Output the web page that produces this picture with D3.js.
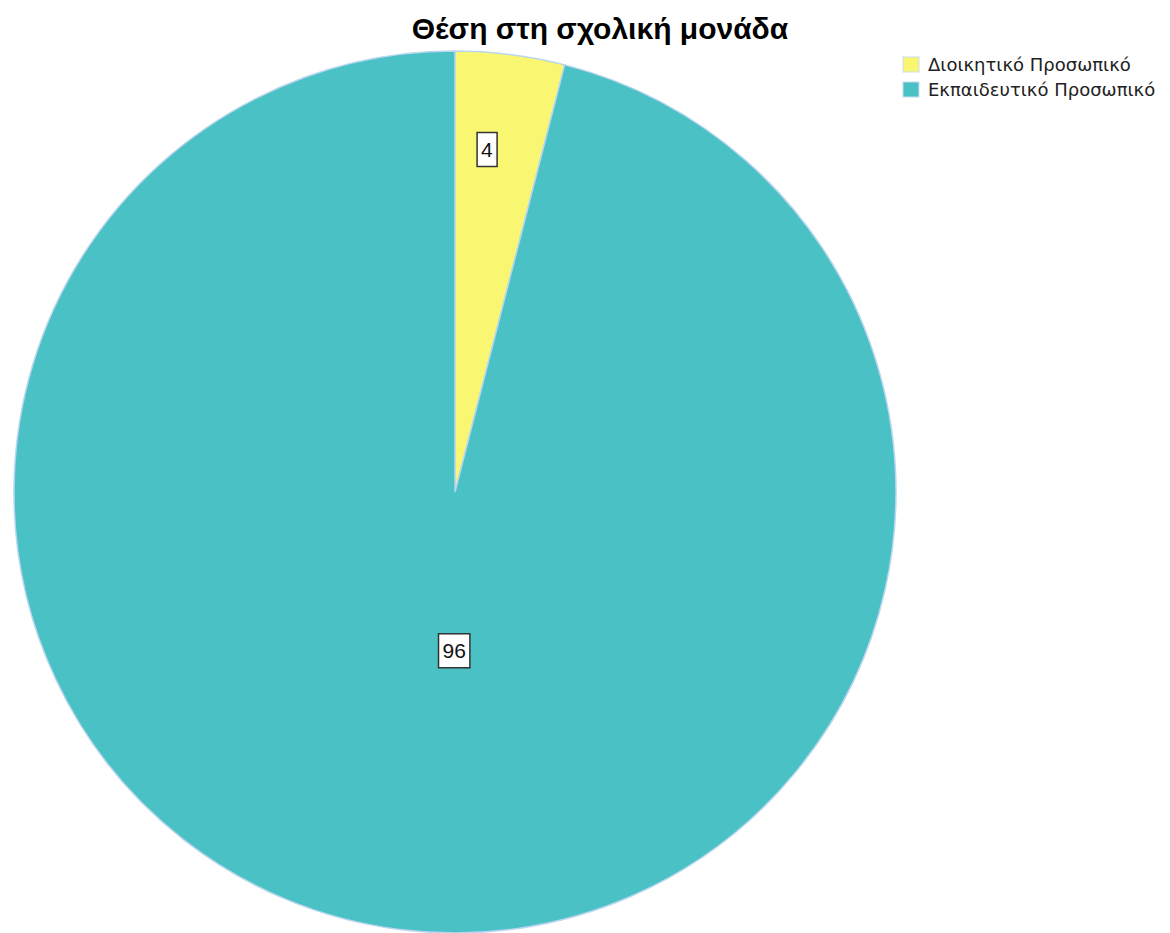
<!DOCTYPE html>
<html>
<head>
<meta charset="utf-8">
<script src="https://cdn.jsdelivr.net/npm/d3@7"></script>
<style>
	body { margin: 0; background: #fff; }
	svg { display: block; }
</style>
</head>
<body>
<div id="plot"></div>
<script>
var title = "Θέση στη σχολική μονάδα";
var categories = ["Διοικητικό Προσωπικό", "Εκπαιδευτικό Προσωπικό"];
var values = [4, 96];
var colors = ["#f9f772", "#4ac1c5"];

var width = 1170, height = 933;
var cx = 455, cy = 492, radius = 441;

var svg = d3.select("#plot").append("svg")
	.attr("width", width)
	.attr("height", height);

svg.append("text")
	.attr("x", 600)
	.attr("y", 39)
	.attr("text-anchor", "middle")
	.style("font-family", "Liberation Sans, Arial, sans-serif")
	.style("font-weight", "bold")
	.style("font-size", "30px")
	.text(title);

var pie = d3.pie().sort(null).value(function(d) { return d; });
var arcs = pie(values);

var path = d3.arc().outerRadius(radius).innerRadius(0);

var g = svg.append("g")
	.attr("transform", "translate(" + cx + "," + cy + ")");

g.selectAll(".arc")
	.data(arcs)
	.enter().append("path")
	.attr("class", "arc")
	.attr("d", path)
	.attr("fill", function(d, i) { return colors[i]; })
	.attr("stroke", "#b9d6ee")
	.style("stroke-width", "1.5px");

// where the labels sit: share of radius, share of the slice's sweep
var labelR = [0.78, 0.36];
var labelA = [0.37, 0.48];

var lab = g.selectAll(".lab")
	.data(arcs)
	.enter().append("g")
	.attr("class", "lab")
	.attr("transform", function(d, i) {
		var r = radius * labelR[i];
		var a = d.startAngle + (d.endAngle - d.startAngle) * labelA[i];
		return "translate(" + (Math.sin(a) * r) + "," + (-Math.cos(a) * r) + ")";
	});

lab.append("text")
	.attr("text-anchor", "middle")
	.attr("dy", "0.36em")
	.style("font-family", "Liberation Sans, Arial, sans-serif")
	.style("font-size", "21px")
	.style("fill", "#111")
	.text(function(d) { return d.data; })
	.each(function() {
		var b = this.getBBox();
		d3.select(this.parentNode).insert("rect", "text")
			.attr("x", b.x - 4)
			.attr("y", -17)
			.attr("width", b.width + 8)
			.attr("height", 34)
			.attr("fill", "white")
			.attr("stroke", "#333")
			.style("stroke-width", "1.5px");
	});

var legend = svg.append("g")
	.attr("transform", "translate(903,57)");

var item = legend.selectAll(".item")
	.data(categories)
	.enter().append("g")
	.attr("class", "item")
	.attr("transform", function(d, i) { return "translate(0," + i * 25 + ")"; });

item.append("rect")
	.attr("width", 16)
	.attr("height", 15)
	.attr("fill", function(d, i) { return colors[i]; })
	.attr("stroke", "#c8def2")
	.style("stroke-width", "1px");

item.append("text")
	.attr("x", 25)
	.attr("y", 14)
	.style("font-family", "DejaVu Sans, sans-serif")
	.style("font-size", "18px")
	.style("fill", "#222")
	.text(function(d) { return d; });
</script>
</body>
</html>
